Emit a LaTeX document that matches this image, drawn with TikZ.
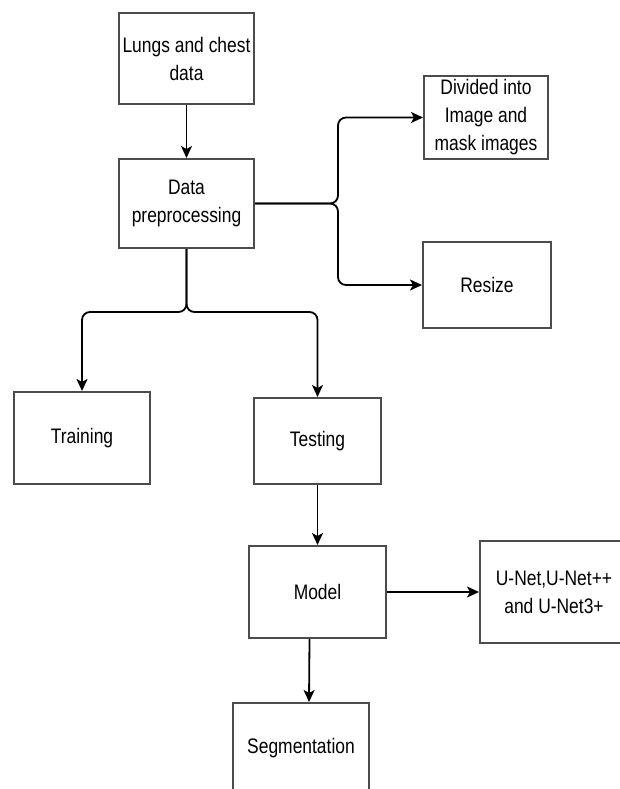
\documentclass[tikz,border=0pt]{standalone}
\usepackage{fontspec}
\setmainfont[FakeStretch=0.83]{Liberation Sans}
\usepackage{tikz}
\usetikzlibrary{arrows.meta}

\begin{document}
\begin{tikzpicture}[x=1pt,y=-1pt,
  box/.style={rectangle,draw=black!70,line width=2pt,inner sep=0pt,align=center,
    font=\fontsize{21}{28}\selectfont},
  link/.style={line width=1.8pt,-{Stealth[length=12pt,width=11pt,inset=3pt]}}]
\useasboundingbox (0,0) rectangle (620,789);
\node at (186.5,58.5) [box,minimum width=135pt,minimum height=91pt] (Lungs) {Lungs and chest\\data};
\node at (186.5,203.5) [box,minimum width=135pt,minimum height=89pt] (Preproc) {Data\\preprocessing};
\node at (486,117.5) [box,minimum width=124pt,minimum height=83pt] (Divided) {Divided into\\Image and\\mask images};
\node at (487,285) [box,minimum width=128pt,minimum height=86pt] (Resize) {Resize};
\node at (82,438) [box,minimum width=136pt,minimum height=92pt] (Training) {Training};
\node at (317.5,441) [box,minimum width=127pt,minimum height=86pt] (Testing) {Testing};
\node at (317.5,592) [box,minimum width=137pt,minimum height=92pt] (Model) {Model};
\node at (554,592) [box,minimum width=148pt,minimum height=102pt] (UNets) {U-Net,U-Net++\\and U-Net3+};
\node at (301,748) [box,minimum width=136pt,minimum height=90pt] (Segment) {Segmentation};
\coordinate (Fork1) at (338,203.5);
\coordinate (Fork2) at (186.5,312);
\draw [link] (Lungs) -- (Preproc);
\draw [link,rounded corners=8pt] (Preproc.east) -- (Fork1) |- (Divided.west);
\draw [link,rounded corners=8pt] (Preproc.east) -- (Fork1) |- (Resize.west);
\draw [link,rounded corners=8pt] (Preproc.south) -- (Fork2) -| (Training.north);
\draw [link,rounded corners=8pt] (Preproc.south) -- (Fork2) -| (Testing.north);
\draw [link] (Testing) -- (Model);
\draw [link] (Model) -- (UNets);
\draw [link] ([xshift=-8pt]Model.south) -- ([xshift=8pt]Segment.north);
\end{tikzpicture}
\end{document}
